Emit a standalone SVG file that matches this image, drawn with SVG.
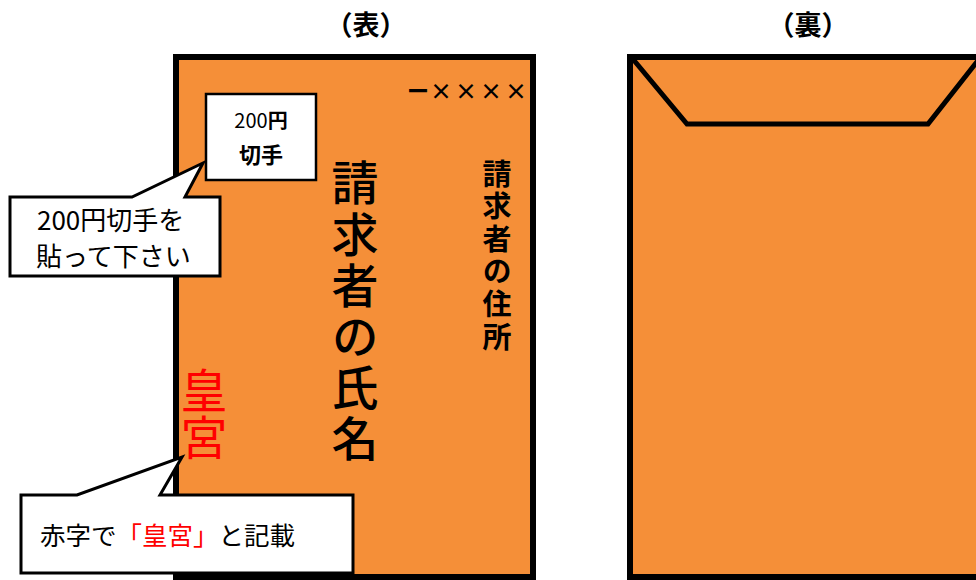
<svg xmlns="http://www.w3.org/2000/svg" width="976" height="580" viewBox="0 0 976 580">
<style>
  .env{fill:#F58F38;stroke:#000;stroke-width:6}
  .ln{fill:none;stroke:#000;stroke-width:5;stroke-linejoin:miter}
  .call{fill:#fff;stroke:#000;stroke-width:3;stroke-linejoin:miter}
  text{font-family:"Noto Sans CJK JP","Noto Sans",sans-serif;fill:#000}
  .b{font-weight:bold}
  .vt{writing-mode:vertical-rl;text-orientation:upright}
  .red{fill:#FF0000}
</style>
<rect width="976" height="580" fill="#fff"/>
<g id="title-front"><text x="366" y="35" font-size="27" class="b" text-anchor="middle">（表）</text></g>
<g id="title-back"><text x="808" y="35" font-size="27" class="b" text-anchor="middle">（裏）</text></g>

<g id="envelope-front">
  <rect class="env" x="176" y="57" width="357" height="520"/>
</g>
<g id="envelope-back">
  <rect class="env" x="630" y="57" width="400" height="520"/>
  <polyline class="ln" points="632,58 687,124 928,124 980,58"/>
</g>

<g id="postcode">
  <text class="b" font-size="22" x="407" y="99">ー</text>
  <text class="b" font-size="22" x="430" y="99" letter-spacing="3">××××</text>
</g>

<g id="stamp">
  <rect x="206" y="94" width="110" height="86" fill="#fff" stroke="#000" stroke-width="2.5"/>
  <text x="261" y="128" font-size="20" text-anchor="middle">200<tspan class="b">円</tspan></text>
  <text x="261" y="163" font-size="22" class="b" text-anchor="middle">切手</text>
</g>

<g id="name">
  <text class="vt" font-size="47" x="355" y="159" letter-spacing="4.2" font-weight="500">請求者の氏名</text>
</g>

<g id="address">
  <text class="vt b" font-size="29" x="497" y="159" letter-spacing="3.6">請求者の住所</text>
</g>

<g id="koukyu">
  <text class="vt red" font-size="47" x="204" y="367">皇宮</text>
</g>

<g id="connectors">
  <path class="call" d="M10,197 H132 L203,163 L185,197 H220 V276 H10 Z"/>
  <path class="call" d="M21,495 H77 L182,457 L160,495 H353 V573 H21 Z"/>
</g>

<g id="callout-stamp">
  <text x="37" y="230" font-size="26">200円切手を</text>
  <text x="36" y="266" font-size="26">貼って下さい</text>
</g>
<g id="callout-red">
  <text x="40" y="545" font-size="25.5">赤字で<tspan class="red">「皇宮」</tspan>と記載</text>
</g>
</svg>
